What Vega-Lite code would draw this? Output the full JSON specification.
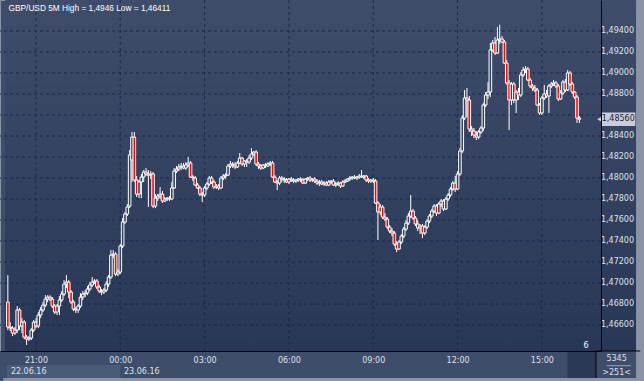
{
"$schema":"https://vega.github.io/schema/vega-lite/v6.json",
"width":601,"height":351,
"autosize":{"type":"none"},
"padding":{"left":0,"top":0,"right":43,"bottom":30},
"background":"#3e4d6a",
"config":{"view":{"stroke":"#8a94a6","strokeWidth":1,"fill":null},"text":{"font":"DejaVu Sans","fontSize":8},
"axis":{"labelFont":"DejaVu Sans","labelFontSize":8,"labelColor":"#dce2ea","ticks":false,"grid":false,"domainColor":"#000000","domainWidth":1,"labelOverlap":false,"labelFlush":false,"zindex":1,"title":null}},
"datasets":{
"one":[{}],
"hgrid":[{"p":1.466},{"p":1.468},{"p":1.47},{"p":1.472},{"p":1.474},{"p":1.476},{"p":1.478},{"p":1.48},{"p":1.482},{"p":1.484},{"p":1.486},{"p":1.488},{"p":1.49},{"p":1.492},{"p":1.494}],
"ylabels":[{"p":1.466,"t":"1,46600"},{"p":1.468,"t":"1,46800"},{"p":1.47,"t":"1,47000"},{"p":1.472,"t":"1,47200"},{"p":1.474,"t":"1,47400"},{"p":1.476,"t":"1,47600"},{"p":1.478,"t":"1,47800"},{"p":1.48,"t":"1,48000"},{"p":1.482,"t":"1,48200"},{"p":1.484,"t":"1,48400"},{"p":1.488,"t":"1,48800"},{"p":1.49,"t":"1,49000"},{"p":1.492,"t":"1,49200"},{"p":1.494,"t":"1,49400"}],
"vgrid":[{"i":12},{"i":48},{"i":84},{"i":120},{"i":156},{"i":192},{"i":228}],
"bars":[
{"i":0,"o":1.46819,"h":1.47076,"l":1.46552,"c":1.46581},
{"i":1,"o":1.46581,"h":1.46628,"l":1.46543,"c":1.46571},
{"i":2,"o":1.46571,"h":1.46590,"l":1.46495,"c":1.46524},
{"i":3,"o":1.46524,"h":1.46581,"l":1.46505,"c":1.46552},
{"i":4,"o":1.46552,"h":1.46781,"l":1.46524,"c":1.46743},
{"i":5,"o":1.46743,"h":1.46762,"l":1.46552,"c":1.46590},
{"i":6,"o":1.46590,"h":1.46666,"l":1.46524,"c":1.46628},
{"i":7,"o":1.46628,"h":1.46647,"l":1.46466,"c":1.46485},
{"i":8,"o":1.46485,"h":1.46505,"l":1.46411,"c":1.46466},
{"i":9,"o":1.46466,"h":1.46495,"l":1.46447,"c":1.46476},
{"i":10,"o":1.46476,"h":1.46571,"l":1.46457,"c":1.46552},
{"i":11,"o":1.46552,"h":1.46647,"l":1.46533,"c":1.46628},
{"i":12,"o":1.46628,"h":1.46666,"l":1.46571,"c":1.46590},
{"i":13,"o":1.46590,"h":1.46724,"l":1.46571,"c":1.46695},
{"i":14,"o":1.46695,"h":1.46771,"l":1.46666,"c":1.46743},
{"i":15,"o":1.46743,"h":1.46819,"l":1.46724,"c":1.46790},
{"i":16,"o":1.46790,"h":1.46885,"l":1.46771,"c":1.46847},
{"i":17,"o":1.46847,"h":1.46885,"l":1.46819,"c":1.46866},
{"i":18,"o":1.46866,"h":1.46885,"l":1.46828,"c":1.46847},
{"i":19,"o":1.46847,"h":1.46866,"l":1.46762,"c":1.46781},
{"i":20,"o":1.46781,"h":1.46800,"l":1.46705,"c":1.46724},
{"i":21,"o":1.46724,"h":1.46800,"l":1.46695,"c":1.46781},
{"i":22,"o":1.46781,"h":1.46876,"l":1.46695,"c":1.46838},
{"i":23,"o":1.46838,"h":1.46924,"l":1.46819,"c":1.46895},
{"i":24,"o":1.46895,"h":1.47028,"l":1.46876,"c":1.46990},
{"i":25,"o":1.46990,"h":1.47076,"l":1.46952,"c":1.47009},
{"i":26,"o":1.47009,"h":1.47028,"l":1.46857,"c":1.46914},
{"i":27,"o":1.46914,"h":1.46933,"l":1.46800,"c":1.46819},
{"i":28,"o":1.46819,"h":1.46838,"l":1.46733,"c":1.46752},
{"i":29,"o":1.46752,"h":1.46771,"l":1.46714,"c":1.46743},
{"i":30,"o":1.46743,"h":1.46800,"l":1.46714,"c":1.46781},
{"i":31,"o":1.46781,"h":1.46905,"l":1.46762,"c":1.46866},
{"i":32,"o":1.46866,"h":1.46924,"l":1.46838,"c":1.46895},
{"i":33,"o":1.46895,"h":1.46933,"l":1.46866,"c":1.46905},
{"i":34,"o":1.46905,"h":1.46971,"l":1.46885,"c":1.46943},
{"i":35,"o":1.46943,"h":1.47009,"l":1.46924,"c":1.46981},
{"i":36,"o":1.46981,"h":1.47057,"l":1.46962,"c":1.47009},
{"i":37,"o":1.47009,"h":1.47038,"l":1.46990,"c":1.47019},
{"i":38,"o":1.47019,"h":1.47038,"l":1.46943,"c":1.46962},
{"i":39,"o":1.46962,"h":1.46981,"l":1.46905,"c":1.46924},
{"i":40,"o":1.46924,"h":1.46943,"l":1.46885,"c":1.46914},
{"i":41,"o":1.46914,"h":1.46952,"l":1.46895,"c":1.46933},
{"i":42,"o":1.46933,"h":1.47019,"l":1.46914,"c":1.46990},
{"i":43,"o":1.46990,"h":1.47076,"l":1.46962,"c":1.47057},
{"i":44,"o":1.47057,"h":1.47314,"l":1.47038,"c":1.47266},
{"i":45,"o":1.47266,"h":1.47314,"l":1.47238,"c":1.47276},
{"i":46,"o":1.47276,"h":1.47295,"l":1.47066,"c":1.47085},
{"i":47,"o":1.47085,"h":1.47133,"l":1.47066,"c":1.47105},
{"i":48,"o":1.47105,"h":1.47371,"l":1.47085,"c":1.47352},
{"i":49,"o":1.47352,"h":1.47619,"l":1.47333,"c":1.47581},
{"i":50,"o":1.47581,"h":1.47676,"l":1.47562,"c":1.47657},
{"i":51,"o":1.47657,"h":1.47752,"l":1.47638,"c":1.47724},
{"i":52,"o":1.47733,"h":1.48266,"l":1.47714,"c":1.48219},
{"i":53,"o":1.48171,"h":1.48438,"l":1.47962,"c":1.48390},
{"i":54,"o":1.48390,"h":1.48438,"l":1.47962,"c":1.47981},
{"i":55,"o":1.47981,"h":1.48019,"l":1.47819,"c":1.47847},
{"i":56,"o":1.47847,"h":1.47981,"l":1.47809,"c":1.47962},
{"i":57,"o":1.47962,"h":1.48038,"l":1.47809,"c":1.48009},
{"i":58,"o":1.48009,"h":1.48076,"l":1.47962,"c":1.48057},
{"i":59,"o":1.48057,"h":1.48095,"l":1.48019,"c":1.48038},
{"i":60,"o":1.48038,"h":1.48076,"l":1.47724,"c":1.48028},
{"i":61,"o":1.48028,"h":1.48066,"l":1.47990,"c":1.48038},
{"i":62,"o":1.48038,"h":1.48057,"l":1.47714,"c":1.47733},
{"i":63,"o":1.47733,"h":1.47847,"l":1.47714,"c":1.47809},
{"i":64,"o":1.47809,"h":1.47847,"l":1.47781,"c":1.47828},
{"i":65,"o":1.47828,"h":1.47914,"l":1.47800,"c":1.47847},
{"i":66,"o":1.47847,"h":1.47876,"l":1.47762,"c":1.47781},
{"i":67,"o":1.47781,"h":1.47819,"l":1.47771,"c":1.47800},
{"i":68,"o":1.47800,"h":1.47819,"l":1.47781,"c":1.47809},
{"i":69,"o":1.47809,"h":1.47828,"l":1.47781,"c":1.47800},
{"i":70,"o":1.47800,"h":1.47962,"l":1.47790,"c":1.47905},
{"i":71,"o":1.47905,"h":1.48095,"l":1.47895,"c":1.48066},
{"i":72,"o":1.48066,"h":1.48114,"l":1.48047,"c":1.48085},
{"i":73,"o":1.48085,"h":1.48133,"l":1.48066,"c":1.48105},
{"i":74,"o":1.48105,"h":1.48143,"l":1.48076,"c":1.48114},
{"i":75,"o":1.48114,"h":1.48143,"l":1.48085,"c":1.48095},
{"i":76,"o":1.48095,"h":1.48152,"l":1.48076,"c":1.48124},
{"i":77,"o":1.48124,"h":1.48200,"l":1.48105,"c":1.48143},
{"i":78,"o":1.48143,"h":1.48162,"l":1.48000,"c":1.48009},
{"i":79,"o":1.48009,"h":1.48028,"l":1.47971,"c":1.48000},
{"i":80,"o":1.48000,"h":1.48019,"l":1.47924,"c":1.47933},
{"i":81,"o":1.47933,"h":1.47952,"l":1.47895,"c":1.47905},
{"i":82,"o":1.47905,"h":1.47924,"l":1.47828,"c":1.47847},
{"i":83,"o":1.47847,"h":1.47866,"l":1.47771,"c":1.47838},
{"i":84,"o":1.47838,"h":1.47924,"l":1.47819,"c":1.47905},
{"i":85,"o":1.47905,"h":1.47962,"l":1.47885,"c":1.47943},
{"i":86,"o":1.47943,"h":1.48019,"l":1.47924,"c":1.48000},
{"i":87,"o":1.48000,"h":1.48019,"l":1.47943,"c":1.47962},
{"i":88,"o":1.47962,"h":1.47981,"l":1.47895,"c":1.47914},
{"i":89,"o":1.47914,"h":1.47943,"l":1.47895,"c":1.47924},
{"i":90,"o":1.47924,"h":1.47943,"l":1.47885,"c":1.47905},
{"i":91,"o":1.47905,"h":1.48019,"l":1.47895,"c":1.48000},
{"i":92,"o":1.48000,"h":1.48038,"l":1.47981,"c":1.48019},
{"i":93,"o":1.48019,"h":1.48047,"l":1.47990,"c":1.48028},
{"i":94,"o":1.48028,"h":1.48133,"l":1.48019,"c":1.48114},
{"i":95,"o":1.48114,"h":1.48162,"l":1.48095,"c":1.48133},
{"i":96,"o":1.48133,"h":1.48152,"l":1.48095,"c":1.48124},
{"i":97,"o":1.48124,"h":1.48152,"l":1.48085,"c":1.48105},
{"i":98,"o":1.48105,"h":1.48162,"l":1.48095,"c":1.48143},
{"i":99,"o":1.48143,"h":1.48238,"l":1.48133,"c":1.48190},
{"i":100,"o":1.48190,"h":1.48200,"l":1.48114,"c":1.48133},
{"i":101,"o":1.48133,"h":1.48171,"l":1.48105,"c":1.48162},
{"i":102,"o":1.48162,"h":1.48181,"l":1.48105,"c":1.48152},
{"i":103,"o":1.48152,"h":1.48219,"l":1.48133,"c":1.48190},
{"i":104,"o":1.48190,"h":1.48285,"l":1.48171,"c":1.48228},
{"i":105,"o":1.48228,"h":1.48257,"l":1.48209,"c":1.48247},
{"i":106,"o":1.48247,"h":1.48266,"l":1.48114,"c":1.48133},
{"i":107,"o":1.48133,"h":1.48152,"l":1.48085,"c":1.48114},
{"i":108,"o":1.48114,"h":1.48133,"l":1.48076,"c":1.48095},
{"i":109,"o":1.48095,"h":1.48133,"l":1.48085,"c":1.48124},
{"i":110,"o":1.48124,"h":1.48143,"l":1.48095,"c":1.48114},
{"i":111,"o":1.48114,"h":1.48152,"l":1.48105,"c":1.48133},
{"i":112,"o":1.48133,"h":1.48162,"l":1.48114,"c":1.48143},
{"i":113,"o":1.48143,"h":1.48162,"l":1.48000,"c":1.48009},
{"i":114,"o":1.48009,"h":1.48028,"l":1.47952,"c":1.47962},
{"i":115,"o":1.47962,"h":1.47981,"l":1.47885,"c":1.47952},
{"i":116,"o":1.47952,"h":1.48019,"l":1.47933,"c":1.48000},
{"i":117,"o":1.48000,"h":1.48019,"l":1.47962,"c":1.47990},
{"i":118,"o":1.47990,"h":1.48009,"l":1.47952,"c":1.47981},
{"i":119,"o":1.47981,"h":1.48000,"l":1.47952,"c":1.47962},
{"i":120,"o":1.47962,"h":1.48000,"l":1.47943,"c":1.47990},
{"i":121,"o":1.47990,"h":1.48009,"l":1.47962,"c":1.47981},
{"i":122,"o":1.47981,"h":1.48000,"l":1.47952,"c":1.47971},
{"i":123,"o":1.47971,"h":1.47990,"l":1.47952,"c":1.47981},
{"i":124,"o":1.47981,"h":1.48000,"l":1.47962,"c":1.47990},
{"i":125,"o":1.47990,"h":1.48009,"l":1.47962,"c":1.47981},
{"i":126,"o":1.47981,"h":1.48000,"l":1.47943,"c":1.47952},
{"i":127,"o":1.47952,"h":1.48000,"l":1.47943,"c":1.47990},
{"i":128,"o":1.47990,"h":1.48009,"l":1.47971,"c":1.48000},
{"i":129,"o":1.48000,"h":1.48019,"l":1.47962,"c":1.47981},
{"i":130,"o":1.47981,"h":1.48000,"l":1.47962,"c":1.47990},
{"i":131,"o":1.47990,"h":1.48009,"l":1.47952,"c":1.47971},
{"i":132,"o":1.47971,"h":1.47990,"l":1.47933,"c":1.47952},
{"i":133,"o":1.47952,"h":1.47981,"l":1.47924,"c":1.47962},
{"i":134,"o":1.47962,"h":1.47981,"l":1.47933,"c":1.47943},
{"i":135,"o":1.47943,"h":1.47971,"l":1.47924,"c":1.47952},
{"i":136,"o":1.47952,"h":1.47971,"l":1.47924,"c":1.47933},
{"i":137,"o":1.47933,"h":1.47981,"l":1.47924,"c":1.47962},
{"i":138,"o":1.47962,"h":1.47981,"l":1.47943,"c":1.47971},
{"i":139,"o":1.47971,"h":1.47990,"l":1.47924,"c":1.47933},
{"i":140,"o":1.47933,"h":1.47962,"l":1.47914,"c":1.47943},
{"i":141,"o":1.47943,"h":1.47971,"l":1.47924,"c":1.47952},
{"i":142,"o":1.47952,"h":1.47962,"l":1.47905,"c":1.47924},
{"i":143,"o":1.47924,"h":1.47981,"l":1.47914,"c":1.47962},
{"i":144,"o":1.47962,"h":1.47990,"l":1.47952,"c":1.47971},
{"i":145,"o":1.47971,"h":1.48000,"l":1.47962,"c":1.47990},
{"i":146,"o":1.47990,"h":1.48019,"l":1.47971,"c":1.48000},
{"i":147,"o":1.48000,"h":1.48019,"l":1.47981,"c":1.48009},
{"i":148,"o":1.48009,"h":1.48028,"l":1.47990,"c":1.48000},
{"i":149,"o":1.48000,"h":1.48019,"l":1.47981,"c":1.48009},
{"i":150,"o":1.48009,"h":1.48038,"l":1.47990,"c":1.48019},
{"i":151,"o":1.48019,"h":1.48076,"l":1.48000,"c":1.48009},
{"i":152,"o":1.48009,"h":1.48028,"l":1.47990,"c":1.48019},
{"i":153,"o":1.48019,"h":1.48028,"l":1.47962,"c":1.47981},
{"i":154,"o":1.47981,"h":1.48000,"l":1.47952,"c":1.47971},
{"i":155,"o":1.47971,"h":1.47990,"l":1.47952,"c":1.47981},
{"i":156,"o":1.47981,"h":1.48000,"l":1.47952,"c":1.47971},
{"i":157,"o":1.47971,"h":1.47990,"l":1.47752,"c":1.47762},
{"i":158,"o":1.47762,"h":1.47781,"l":1.47409,"c":1.47676},
{"i":159,"o":1.47676,"h":1.47752,"l":1.47647,"c":1.47724},
{"i":160,"o":1.47724,"h":1.47743,"l":1.47609,"c":1.47628},
{"i":161,"o":1.47628,"h":1.47666,"l":1.47590,"c":1.47609},
{"i":162,"o":1.47609,"h":1.47628,"l":1.47514,"c":1.47533},
{"i":163,"o":1.47533,"h":1.47552,"l":1.47476,"c":1.47495},
{"i":164,"o":1.47495,"h":1.47524,"l":1.47447,"c":1.47476},
{"i":165,"o":1.47476,"h":1.47495,"l":1.47352,"c":1.47371},
{"i":166,"o":1.47371,"h":1.47400,"l":1.47295,"c":1.47324},
{"i":167,"o":1.47324,"h":1.47409,"l":1.47314,"c":1.47390},
{"i":168,"o":1.47390,"h":1.47466,"l":1.47371,"c":1.47447},
{"i":169,"o":1.47447,"h":1.47533,"l":1.47428,"c":1.47514},
{"i":170,"o":1.47514,"h":1.47600,"l":1.47495,"c":1.47571},
{"i":171,"o":1.47571,"h":1.47666,"l":1.47552,"c":1.47638},
{"i":172,"o":1.47638,"h":1.47838,"l":1.47619,"c":1.47685},
{"i":173,"o":1.47685,"h":1.47705,"l":1.47600,"c":1.47619},
{"i":174,"o":1.47619,"h":1.47638,"l":1.47543,"c":1.47562},
{"i":175,"o":1.47562,"h":1.47600,"l":1.47495,"c":1.47524},
{"i":176,"o":1.47524,"h":1.47562,"l":1.47466,"c":1.47543},
{"i":177,"o":1.47543,"h":1.47562,"l":1.47428,"c":1.47476},
{"i":178,"o":1.47476,"h":1.47552,"l":1.47457,"c":1.47533},
{"i":179,"o":1.47533,"h":1.47609,"l":1.47514,"c":1.47590},
{"i":180,"o":1.47590,"h":1.47657,"l":1.47571,"c":1.47638},
{"i":181,"o":1.47638,"h":1.47705,"l":1.47619,"c":1.47685},
{"i":182,"o":1.47685,"h":1.47752,"l":1.47666,"c":1.47733},
{"i":183,"o":1.47733,"h":1.47752,"l":1.47638,"c":1.47666},
{"i":184,"o":1.47666,"h":1.47771,"l":1.47657,"c":1.47752},
{"i":185,"o":1.47752,"h":1.47800,"l":1.47724,"c":1.47781},
{"i":186,"o":1.47781,"h":1.47800,"l":1.47685,"c":1.47705},
{"i":187,"o":1.47705,"h":1.47819,"l":1.47695,"c":1.47800},
{"i":188,"o":1.47800,"h":1.47857,"l":1.47781,"c":1.47838},
{"i":189,"o":1.47838,"h":1.47914,"l":1.47819,"c":1.47895},
{"i":190,"o":1.47895,"h":1.47971,"l":1.47876,"c":1.47952},
{"i":191,"o":1.47952,"h":1.48019,"l":1.47866,"c":1.47895},
{"i":192,"o":1.47895,"h":1.48066,"l":1.47885,"c":1.48038},
{"i":193,"o":1.48038,"h":1.48285,"l":1.48019,"c":1.48257},
{"i":194,"o":1.48257,"h":1.48600,"l":1.48238,"c":1.48571},
{"i":195,"o":1.48571,"h":1.48838,"l":1.48552,"c":1.48762},
{"i":196,"o":1.48762,"h":1.48857,"l":1.48581,"c":1.48743},
{"i":197,"o":1.48743,"h":1.48781,"l":1.48438,"c":1.48466},
{"i":198,"o":1.48466,"h":1.48495,"l":1.48400,"c":1.48447},
{"i":199,"o":1.48447,"h":1.48476,"l":1.48381,"c":1.48409},
{"i":200,"o":1.48409,"h":1.48447,"l":1.48362,"c":1.48390},
{"i":201,"o":1.48390,"h":1.48457,"l":1.48371,"c":1.48438},
{"i":202,"o":1.48438,"h":1.48495,"l":1.48419,"c":1.48476},
{"i":203,"o":1.48476,"h":1.48714,"l":1.48447,"c":1.48695},
{"i":204,"o":1.48695,"h":1.48819,"l":1.48676,"c":1.48790},
{"i":205,"o":1.48790,"h":1.48914,"l":1.48752,"c":1.48819},
{"i":206,"o":1.48819,"h":1.49286,"l":1.48771,"c":1.49219},
{"i":207,"o":1.49219,"h":1.49314,"l":1.49200,"c":1.49286},
{"i":208,"o":1.49286,"h":1.49343,"l":1.49171,"c":1.49190},
{"i":209,"o":1.49190,"h":1.49438,"l":1.49181,"c":1.49314},
{"i":210,"o":1.49314,"h":1.49460,"l":1.49276,"c":1.49324},
{"i":211,"o":1.49324,"h":1.49352,"l":1.49286,"c":1.49295},
{"i":212,"o":1.49295,"h":1.49314,"l":1.49086,"c":1.49095},
{"i":213,"o":1.49095,"h":1.49124,"l":1.48886,"c":1.48905},
{"i":214,"o":1.48905,"h":1.48933,"l":1.48457,"c":1.48743},
{"i":215,"o":1.48743,"h":1.48914,"l":1.48695,"c":1.48895},
{"i":216,"o":1.48895,"h":1.48914,"l":1.48714,"c":1.48743},
{"i":217,"o":1.48743,"h":1.48838,"l":1.48619,"c":1.48819},
{"i":218,"o":1.48819,"h":1.48857,"l":1.48743,"c":1.48790},
{"i":219,"o":1.48790,"h":1.49009,"l":1.48771,"c":1.48981},
{"i":220,"o":1.48981,"h":1.49057,"l":1.48962,"c":1.49028},
{"i":221,"o":1.49028,"h":1.49066,"l":1.49000,"c":1.49038},
{"i":222,"o":1.49038,"h":1.49057,"l":1.48924,"c":1.48933},
{"i":223,"o":1.48933,"h":1.48952,"l":1.48857,"c":1.48876},
{"i":224,"o":1.48876,"h":1.48895,"l":1.48828,"c":1.48857},
{"i":225,"o":1.48857,"h":1.48886,"l":1.48819,"c":1.48838},
{"i":226,"o":1.48838,"h":1.48857,"l":1.48686,"c":1.48695},
{"i":227,"o":1.48695,"h":1.48714,"l":1.48600,"c":1.48619},
{"i":228,"o":1.48619,"h":1.48781,"l":1.48600,"c":1.48762},
{"i":229,"o":1.48762,"h":1.48886,"l":1.48743,"c":1.48800},
{"i":230,"o":1.48800,"h":1.48838,"l":1.48762,"c":1.48781},
{"i":231,"o":1.48781,"h":1.48895,"l":1.48619,"c":1.48876},
{"i":232,"o":1.48876,"h":1.48914,"l":1.48857,"c":1.48895},
{"i":233,"o":1.48895,"h":1.48933,"l":1.48876,"c":1.48905},
{"i":234,"o":1.48905,"h":1.48924,"l":1.48857,"c":1.48876},
{"i":235,"o":1.48876,"h":1.48895,"l":1.48733,"c":1.48752},
{"i":236,"o":1.48752,"h":1.48838,"l":1.48743,"c":1.48809},
{"i":237,"o":1.48809,"h":1.48933,"l":1.48790,"c":1.48914},
{"i":238,"o":1.48914,"h":1.48943,"l":1.48819,"c":1.48838},
{"i":239,"o":1.48838,"h":1.49028,"l":1.48828,"c":1.49000},
{"i":240,"o":1.49000,"h":1.49019,"l":1.48876,"c":1.48895},
{"i":241,"o":1.48895,"h":1.48914,"l":1.48800,"c":1.48819},
{"i":242,"o":1.48819,"h":1.48828,"l":1.48752,"c":1.48771},
{"i":243,"o":1.48771,"h":1.48790,"l":1.48524,"c":1.48571},
{"i":244,"o":1.48571,"h":1.48590,"l":1.48524,"c":1.48560}
]},
"layer":[
{"data":{"name":"one"},"mark":{"type":"rect","fill":{"gradient":"linear","x1":0,"y1":0,"x2":0,"y2":1,"stops":[{"offset":0,"color":"#3f4d6b"},{"offset":1,"color":"#293756"}]}},
 "encoding":{"x":{"datum":-1.217,"type":"quantitative","scale":{"domain":[-1.217,251.1],"nice":false,"zero":false},"axis":{"values":[12,48,84,120,156,192,228],"labelExpr":"['21:00','00:00','03:00','06:00','09:00','12:00','15:00'][round((datum.value-12)/36)]","title":null,"labelPadding":5,"labelBaseline":"top","zindex":1,"labelOverlap":false,"labelFlush":false}},"x2":{"datum":270},
 "y":{"datum":1.46353,"type":"quantitative","scale":{"domain":[1.46353,1.49695],"nice":false,"zero":false},"axis":{"orient":"right","labels":false,"title":null,"zindex":1}},"y2":{"datum":1.49695}}},
{"data":{"name":"one"},"mark":{"type":"rect","fill":"#4b5a77"},"encoding":{"x":{"datum":-0.38,"type":"quantitative"},"x2":{"datum":48},"y":{"datum":1.4622,"type":"quantitative"},"y2":{"datum":1.46096}}},
{"data":{"name":"one"},"mark":{"type":"rect","fill":"#2b3956"},"encoding":{"x":{"datum":238.9,"type":"quantitative"},"x2":{"datum":251.1},"y":{"datum":1.46353,"type":"quantitative"},"y2":{"datum":1.46096}}},
{"data":{"name":"one"},"mark":{"type":"rect","fill":"#8a94a6"},"encoding":{"x":{"datum":-2,"type":"quantitative"},"x2":{"datum":275},"y":{"datum":1.46096,"type":"quantitative"},"y2":{"datum":1.4600}}},
{"data":{"name":"one"},"mark":{"type":"rect","fill":"#8a94a6"},"encoding":{"x":{"datum":268.2,"type":"quantitative"},"x2":{"datum":275},"y":{"datum":1.4600,"type":"quantitative"},"y2":{"datum":1.4975}}},
{"data":{"name":"hgrid"},"mark":{"type":"rule","color":"#1b2a4b","strokeDash":[3,3],"strokeWidth":1},"encoding":{"y":{"field":"p","type":"quantitative"}}},
{"data":{"name":"vgrid"},"mark":{"type":"rule","color":"#1b2a4b","strokeDash":[3,3],"strokeWidth":1},"encoding":{"x":{"field":"i","type":"quantitative"}}},
{"data":{"name":"ylabels"},"mark":{"type":"text","align":"left","baseline":"middle","color":"#dce2ea","font":"DejaVu Sans","fontSize":8},"encoding":{"x":{"datum":253.2,"type":"quantitative"},"y":{"field":"p","type":"quantitative"},"text":{"field":"t"}}},
{"data":{"name":"bars"},"mark":{"type":"rule","color":"#ffffff","strokeWidth":1},
 "encoding":{"x":{"field":"i","type":"quantitative"},"y":{"field":"l","type":"quantitative"},"y2":{"field":"h"}}},
{"data":{"name":"bars"},"mark":{"type":"bar","size":2.6,"stroke":"#ffffff","strokeWidth":1,"orient":"vertical"},
 "encoding":{"x":{"field":"i","type":"quantitative"},"y":{"field":"o","type":"quantitative"},"y2":{"field":"c"},
 "fill":{"condition":{"test":"datum.c < datum.o","value":"#ff0000"},"value":"#35435f"}}},
{"data":{"name":"one"},"mark":{"type":"text","text":"GBP/USD 5M High = 1,4946 Low = 1,46411","align":"left","baseline":"middle","color":"#ffffff","font":"Liberation Sans","fontSize":8.3},"encoding":{"x":{"datum":0.3,"type":"quantitative"},"y":{"datum":1.49609,"type":"quantitative"}}},
{"data":{"name":"one"},"mark":{"type":"text","text":"6","align":"center","baseline":"middle","color":"#ffffff"},"encoding":{"x":{"datum":246.9,"type":"quantitative"},"y":{"datum":1.46401,"type":"quantitative"}}},
{"data":{"name":"one"},"mark":{"type":"text","text":"22.06.16","align":"left","baseline":"middle","color":"#dce2ea"},"encoding":{"x":{"datum":1.3,"type":"quantitative"},"y":{"datum":1.46153,"type":"quantitative"}}},
{"data":{"name":"one"},"mark":{"type":"text","text":"23.06.16","align":"left","baseline":"middle","color":"#dce2ea"},"encoding":{"x":{"datum":49.6,"type":"quantitative"},"y":{"datum":1.46153,"type":"quantitative"}}},
{"data":{"name":"one"},"mark":{"type":"text","text":"5345","align":"center","baseline":"middle","color":"#dce2ea"},"encoding":{"x":{"datum":259.9,"type":"quantitative"},"y":{"datum":1.46275,"type":"quantitative"}}},
{"data":{"name":"one"},"mark":{"type":"text","text":">251<","align":"center","baseline":"middle","color":"#dce2ea"},"encoding":{"x":{"datum":259.9,"type":"quantitative"},"y":{"datum":1.46148,"type":"quantitative"}}},
{"data":{"name":"one"},"mark":{"type":"rule","color":"#9aa3b3","strokeWidth":1},"encoding":{"x":{"datum":255.6,"type":"quantitative"},"x2":{"datum":266.1},"y":{"datum":1.46213,"type":"quantitative"}}},
{"data":{"name":"one"},"mark":{"type":"rule","color":"#000000","strokeWidth":1},"encoding":{"x":{"datum":251.1,"type":"quantitative"},"x2":{"datum":270},"y":{"datum":1.46353,"type":"quantitative"}}},
{"data":{"name":"one"},"mark":{"type":"rule","color":"#000000","strokeWidth":1},"encoding":{"x":{"datum":251.1,"type":"quantitative"},"y":{"datum":1.46353,"type":"quantitative"},"y2":{"datum":1.46096}}},
{"data":{"name":"one"},"mark":{"type":"rect","fill":"#c9cdd5"},"encoding":{"x":{"datum":253.4,"type":"quantitative"},"x2":{"datum":267.9},"y":{"datum":1.48624,"type":"quantitative"},"y2":{"datum":1.48496}}},
{"data":{"name":"one"},"mark":{"type":"point","shape":"triangle-left","filled":true,"size":50,"color":"#c9cdd5","opacity":1},"encoding":{"x":{"datum":252.9,"type":"quantitative"},"y":{"datum":1.4856,"type":"quantitative"}}},
{"data":{"name":"one"},"mark":{"type":"text","text":"1,48560","align":"center","baseline":"middle","color":"#1b2338"},"encoding":{"x":{"datum":260.6,"type":"quantitative"},"y":{"datum":1.4856,"type":"quantitative"}}}
]
}
